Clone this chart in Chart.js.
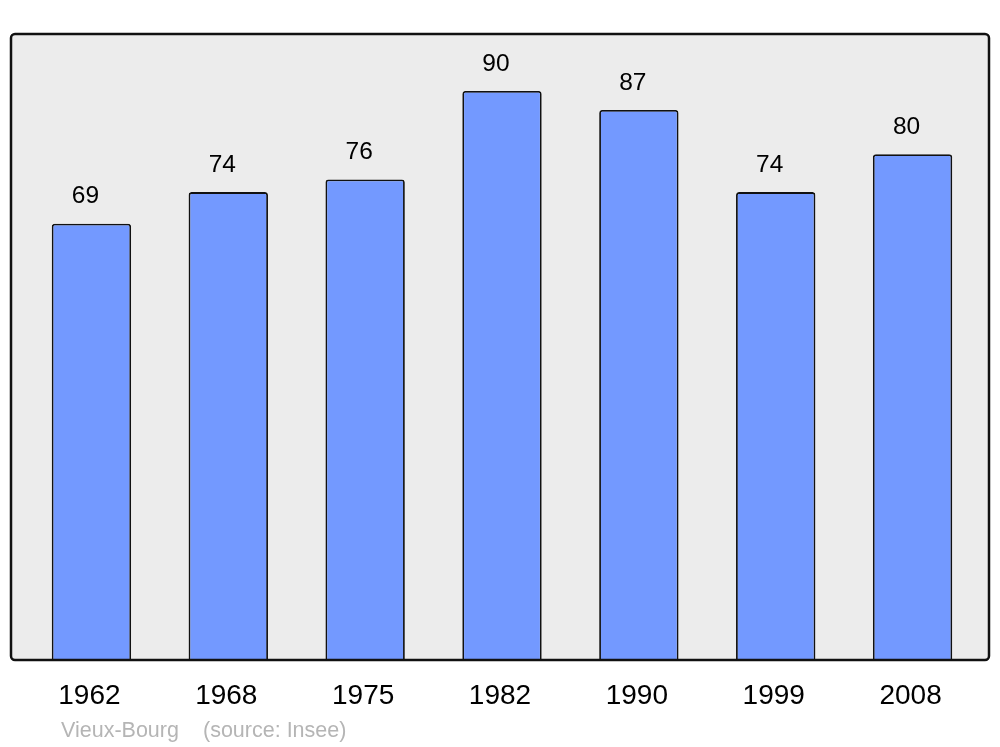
<!DOCTYPE html>
<html>
<head>
<meta charset="utf-8">
<script src="https://cdn.jsdelivr.net/npm/chart.js@4/dist/chart.umd.min.js"></script>
<style>
  html, body { margin: 0; padding: 0; background: #fff; }
  #wrap { width: 1000px; height: 747px; }
</style>
</head>
<body>
<div id="wrap"><canvas id="pop"></canvas></div>
<script>
// population data
const years = ['1962', '1968', '1975', '1982', '1990', '1999', '2008'];
const population = [69, 74, 76, 90, 87, 74, 80];
const sourceLabels = ['Vieux-Bourg', '(source: Insee)'];

const FONT = '"Liberation Sans", Arial, sans-serif';

// grey frame behind the bars, outline drawn on top
const framePlugin = {
    id: 'frame',
    beforeDatasetsDraw(chart) {
        const a = chart.chartArea, ctx = chart.ctx;
        ctx.save();
        ctx.beginPath();
        ctx.roundRect(a.left - 12, a.top, a.right - a.left + 20, a.bottom - a.top, 4);
        ctx.fillStyle = '#ececec';
        ctx.fill();
        ctx.restore();
    },
    afterDatasetsDraw(chart) {
        const a = chart.chartArea, ctx = chart.ctx;
        ctx.save();
        ctx.beginPath();
        ctx.roundRect(a.left - 12, a.top, a.right - a.left + 20, a.bottom - a.top, 4);
        ctx.lineWidth = 2.5;
        ctx.strokeStyle = '#111';
        ctx.stroke();

        //values above bars
        ctx.font = '24.5px ' + FONT;
        ctx.fillStyle = '#000';
        ctx.textAlign = 'center';
        ctx.textBaseline = 'middle';
        chart.getDatasetMeta(0).data.forEach((bar, i) => {
            ctx.fillText(String(population[i]), bar.x - 6, bar.y - 27);
        });

        //source line
        ctx.font = '21.5px ' + FONT;
        ctx.fillStyle = '#b5b5b5';
        ctx.textAlign = 'left';
        ctx.textBaseline = 'alphabetic';
        ctx.fillText(sourceLabels[0], 61, 737);
        ctx.fillText(sourceLabels[1], 203, 737);
        ctx.restore();
    }
};

new Chart(document.getElementById('pop'), {
    type: 'bar',
    data: {
        labels: years,
        datasets: [{
            data: population,
            backgroundColor: '#7399ff',
            borderColor: '#111',
            borderWidth: 1.8,
            borderRadius: { topLeft: 3, topRight: 3 },
            borderSkipped: 'bottom',
            barPercentage: 0.58,
            categoryPercentage: 1
        }]
    },
    options: {
        responsive: true,
        maintainAspectRatio: false,
        animation: false,
        layout: { padding: { left: 23, right: 19, top: 34, bottom: 0 } },
        plugins: {
            legend: { display: false },
            tooltip: { enabled: false }
        },
        scales: {
            x: {
                grid: { display: false, drawTicks: false },
                border: { display: false },
                ticks: {
                    color: '#000',
                    padding: 19,
                    labelOffset: -2,
                    font: { family: FONT, size: 28 }
                },
                afterFit(scale) { scale.height = 87; }
            },
            y: {
                display: false,
                min: 0,
                max: 99
            }
        }
    },
    plugins: [framePlugin]
});
</script>
</body>
</html>
